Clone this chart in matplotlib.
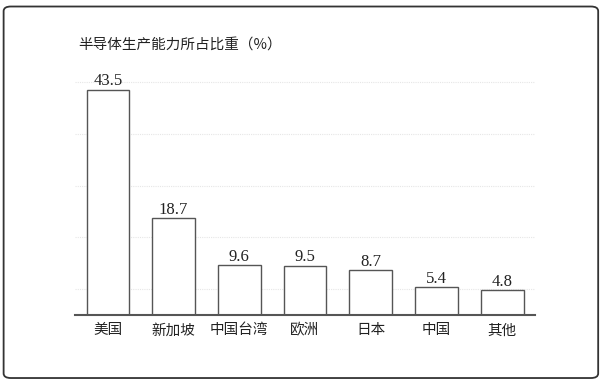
import matplotlib.pyplot as plt
from matplotlib.patches import FancyBboxPatch

plt.rcParams['font.family'] = ['Noto Sans CJK SC', 'DejaVu Sans']

regions = ['美国', '新加坡', '中国台湾', '欧洲', '日本', '中国', '其他']
shares = [43.5, 18.7, 9.6, 9.5, 8.7, 5.4, 4.8]
grid_ticks = [5, 15, 25, 35, 45]
title = '半导体生产能力所占比重（%）'

fig = plt.figure(figsize=(6.03, 3.83), dpi=100)

# rounded card frame
card = FancyBboxPatch((0.006, 0.013), 0.986, 0.97, boxstyle='round,pad=0,rounding_size=0.012',
                      transform=fig.transFigure, facecolor='white', edgecolor='#333333',
                      linewidth=1.3, zorder=-10)
fig.add_artist(card)

ax = fig.add_axes([0.1244, 0.1775, 0.7629, 0.6222], zorder=2)
ax.set_facecolor('none')
x = range(len(regions))
ax.bar(x, shares, width=0.65, color='white', edgecolor='#555555', linewidth=1.0, zorder=3)

for i, v in enumerate(shares):
    ax.annotate(f'{v}', (i, v), xytext=(0, 0.3), textcoords='offset points',
                ha='center', va='bottom', fontsize=12, family=['Liberation Serif'],
                color='#222222', zorder=4)

ax.set_xlim(-0.5, len(regions) - 0.5)
ax.set_ylim(0, 46)
ax.set_yticks(grid_ticks)
ax.set_yticklabels([])
ax.tick_params(axis='y', length=0)
ax.grid(axis='y', linestyle=(0, (1, 1)), color='#e6e6e6', linewidth=0.8, zorder=0)
ax.set_axisbelow(True)

ax.set_xticks(list(x))
ax.set_xticklabels(regions, fontsize=10.5, color='#222222')
ax.tick_params(axis='x', length=0, pad=6)

for s in ['top', 'right', 'left']:
    ax.spines[s].set_visible(False)
ax.spines['bottom'].set_color('#555555')
ax.spines['bottom'].set_linewidth(1.5)
ax.spines['bottom'].set_zorder(5)

fig.text(78 / 603, 1 - 46 / 383, title, fontsize=10.5, color='#222222', ha='left', va='center')

fig.savefig('out.png', dpi=100)
